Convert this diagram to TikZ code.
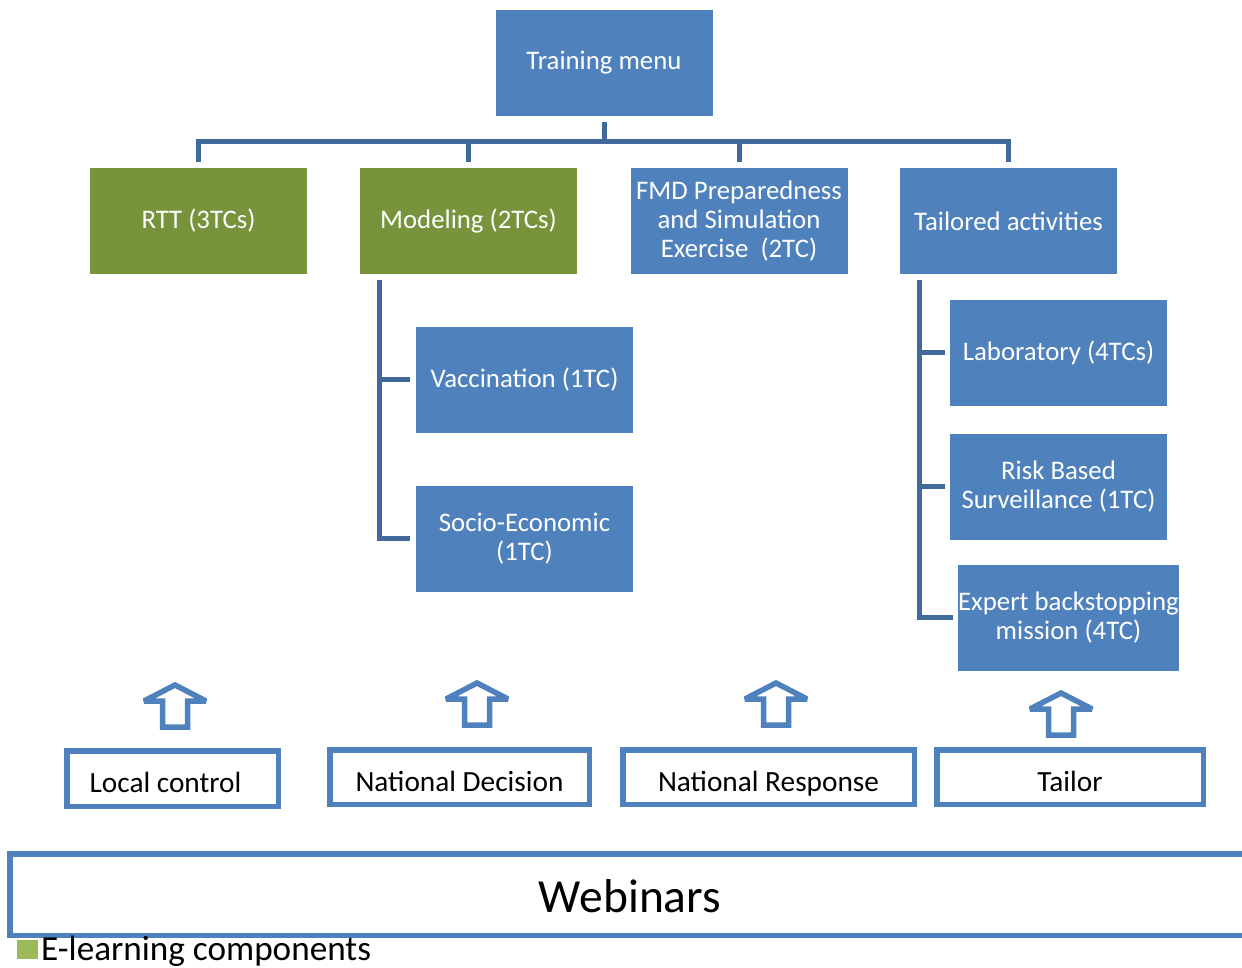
\documentclass[tikz,border=0pt]{standalone}
\usepackage{fontspec}
\setmainfont{Carlito}
\definecolor{boxblue}{HTML}{4F81BD}
\definecolor{boxgreen}{HTML}{77933C}
\definecolor{connblue}{HTML}{41699A}
\definecolor{lightgreen}{HTML}{9BBB59}
\tikzset{
  fillbox/.style={rectangle, fill=boxblue, draw=none, minimum width=217pt, minimum height=106pt,
    inner sep=0pt, align=center, text=white, font=\fontsize{26.8}{29}\selectfont},
  greenbox/.style={fillbox, fill=boxgreen},
  conn/.style={draw=connblue, line width=5pt},
  outbox/.style={rectangle, draw=boxblue, line width=5.5pt, fill=white, inner sep=0pt,
    font=\fontsize{29.3}{32}\selectfont, text height=28pt, text depth=0pt},
  uparrow/.pic={
    \path[fill=white, draw=boxblue, line width=5.5pt, line join=miter, miter limit=3]
      (0,0) -- (31,16) -- (12.5,16) -- (12.5,42) -- (-12.5,42) -- (-12.5,16) -- (-31,16) -- cycle;
  }
}
\begin{document}
\begin{tikzpicture}[x=1pt,y=-1pt]
\useasboundingbox (0,0) rectangle (1242,967);
\clip (0,0) rectangle (1242,967);

% top hierarchy
\node[fillbox] (menu) at (604,63) {Training menu};
\node[greenbox] (rtt) at (198.5,221) {RTT (3TCs)};
\node[greenbox] (model) at (468.5,221) {Modeling (2TCs)};
\node[fillbox] (fmd) at (739,221) {FMD Preparedness\\and Simulation\\Exercise\ \ (2TC)};
\node[fillbox] (tail) at (1008.5,221) {Tailored activities};

\node[fillbox] (vacc) at (524.5,379.5) {Vaccination (1TC)};
\node[fillbox] (socio) at (524.5,538.5) {Socio-Economic\\(1TC)};

\node[fillbox] (lab) at (1058.5,352.5) {Laboratory (4TCs)};
\node[fillbox] (risk) at (1058.5,486.5) {Risk Based\\Surveillance (1TC)};
\node[fillbox] (expert) at (1068.5,617.5) {Expert backstopping\\mission (4TC)};

% tree connectors
\coordinate (bar) at (604,141);
\draw[conn] ([yshift=-6pt]menu.south) -- (bar);
\draw[conn] ([yshift=6pt]rtt.north) |- (bar);
\draw[conn] ([yshift=6pt]model.north) |- (bar);
\draw[conn] ([yshift=6pt]fmd.north) |- (bar);
\draw[conn] ([yshift=6pt]tail.north) |- (bar);

\draw[conn] ([xshift=20pt,yshift=-6pt]model.south west) |- ([xshift=-6pt]vacc.west);
\draw[conn] ([xshift=20pt,yshift=-6pt]model.south west) |- ([xshift=-6pt]socio.west);

\draw[conn] ([xshift=20pt,yshift=-6pt]tail.south west) |- ([xshift=-5pt]lab.west);
\draw[conn] ([xshift=20pt,yshift=-6pt]tail.south west) |- ([xshift=-5pt]risk.west);
\draw[conn] ([xshift=20pt,yshift=-6pt]tail.south west) |- ([xshift=-5pt]expert.west);

% up arrows
\pic at (175,685) {uparrow};
\pic at (477,683) {uparrow};
\pic at (776,683) {uparrow};
\pic at (1061,693) {uparrow};

% bottom boxes
\node[outbox, minimum width=211.5pt, minimum height=55.5pt] (local) at (172.5,778.5) {Local control\kern14pt};
\node[outbox, minimum width=259.5pt, minimum height=54.5pt] (natdec) at (459.5,777) {National Decision};
\node[outbox, minimum width=291.5pt, minimum height=54.5pt] (natresp) at (768.5,777) {National Response};
\node[outbox, minimum width=266.5pt, minimum height=54.5pt] (tailor) at (1070,777) {Tailor};

\node[outbox, minimum width=1240.5pt, minimum height=81.5pt, font=\fontsize{47.5}{50}\selectfont,
  text height=35pt] (web) at (630,894.5) {Webinars};

% legend
\fill[lightgreen] (17,940) rectangle (38,959);
\node[anchor=base west, inner sep=0pt, font=\fontsize{35.2}{37}\selectfont] (elearn) at (41,960) {E-learning components};
\end{tikzpicture}
\end{document}
